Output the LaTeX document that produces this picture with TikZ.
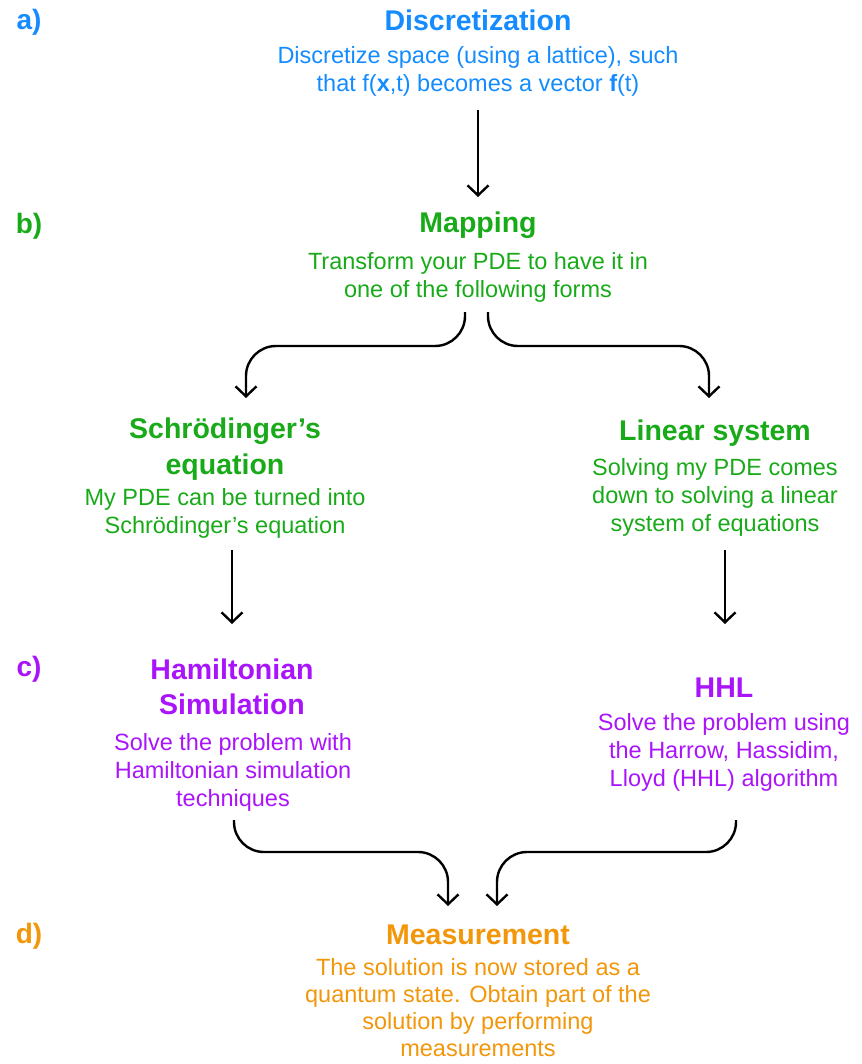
\documentclass[tikz,border=0pt]{standalone}
\usepackage{fontspec}
\setmainfont{Liberation Sans}
\usetikzlibrary{arrows.meta}
\definecolor{cblue}{RGB}{20,140,255}
\definecolor{cgreen}{RGB}{25,170,25}
\definecolor{cpurple}{RGB}{170,20,250}
\definecolor{corange}{RGB}{242,150,10}
\tikzset{
  ttl/.style={font=\fontsize{28.5}{35.5}\selectfont\bfseries, align=center, inner sep=0pt},
  bdy/.style={font=\fontsize{23.5}{28}\selectfont, align=center, inner sep=0pt},
  lbl/.style={font=\fontsize{28}{30}\selectfont\bfseries, inner sep=0pt},
  arr/.style={draw=black, line width=2.4pt, -{Straight Barb[length=10pt,width=21pt,line width=2.4pt]}, rounded corners=30pt}
}
\begin{document}
\begin{tikzpicture}[x=1pt,y=-1pt]
\useasboundingbox (0,0) rectangle (861,1064);
% labels
\node[lbl,text=cblue] (la) at (29,22) {a)};
\node[lbl,text=cgreen] (lb) at (29,226) {b)};
\node[lbl,text=cpurple] (lc) at (29,669) {c)};
\node[lbl,text=corange] (ld) at (29,936) {d)};
% a
\node[ttl,text=cblue] (t1) at (478,20) {Discretization};
\node[bdy,text=cblue] (b1) at (478,71) {Discretize space (using a lattice), such\\that f(\textbf{x},t) becomes a vector \textbf{f}(t)};
% b
\node[ttl,text=cgreen] (t2) at (478,225) {Mapping};
\node[bdy,text=cgreen] (b2) at (478,277) {Transform your PDE to have it in\\one of the following forms};
% schrodinger
\node[ttl,text=cgreen] (t3) at (225,449) {Schrödinger’s\\equation};
\node[bdy,text=cgreen] (b3) at (225,513) {My PDE can be turned into\\Schrödinger’s equation};
% linear
\node[ttl,text=cgreen] (t4) at (715,433) {Linear system};
\node[bdy,text=cgreen] (b4) at (715,497) {Solving my PDE comes\\down to solving a linear\\system of equations};
% hamiltonian
\node[ttl,text=cpurple] (t5) at (232,687) {Hamiltonian\\Simulation};
\node[bdy,text=cpurple] (b5) at (233,772) {Solve the problem with\\Hamiltonian simulation\\techniques};
% HHL
\node[ttl,text=cpurple] (t6) at (724,688) {HHL};
\node[bdy,text=cpurple] (b6) at (724,752) {Solve the problem using\\the Harrow, Hassidim,\\Lloyd (HHL) algorithm};
% measurement
\node[ttl,text=corange] (t7) at (478,935) {Measurement};
\node[bdy,text=corange,font=\fontsize{23.5}{27}\selectfont] (b7) at (478,1008) {The solution is now stored as a\\quantum state. Obtain part of the\\solution by performing\\measurements};
% connector coordinates
\coordinate (a1s) at (478,110);
\coordinate (a1e) at (478,197);
\coordinate (m1s) at (465,312);
\coordinate (m1e) at (246,398);
\coordinate (m2s) at (488,312);
\coordinate (m2e) at (709,398);
\coordinate (s1s) at (232,550);
\coordinate (s1e) at (232,624);
\coordinate (s2s) at (725,550);
\coordinate (s2e) at (725,624);
\coordinate (h1s) at (234,820);
\coordinate (h1e) at (448,906);
\coordinate (h2s) at (736,820);
\coordinate (h2e) at (497,906);
\draw[arr] (a1s) -- (a1e);
\draw[arr] (m1s) -- (m1s |- 0,346) -- (m1e |- 0,346) -- (m1e);
\draw[arr] (m2s) -- (m2s |- 0,346) -- (m2e |- 0,346) -- (m2e);
\draw[arr] (s1s) -- (s1e);
\draw[arr] (s2s) -- (s2e);
\draw[arr] (h1s) -- (h1s |- 0,852) -- (h1e |- 0,852) -- (h1e);
\draw[arr] (h2s) -- (h2s |- 0,852) -- (h2e |- 0,852) -- (h2e);
\end{tikzpicture}
\end{document}
